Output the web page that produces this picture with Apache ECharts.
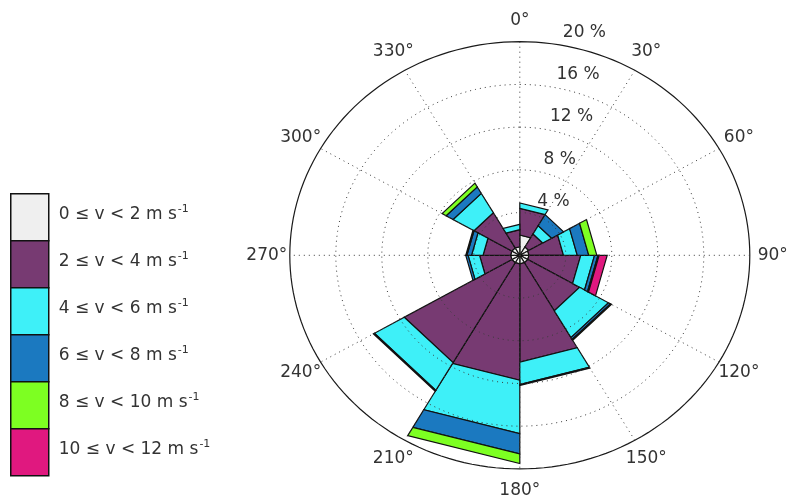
<!DOCTYPE html>
<html>
<head>
<meta charset="utf-8">
<script src="https://cdn.jsdelivr.net/npm/echarts@6/dist/echarts.min.js"></script>
<style>
  html, body { margin: 0; padding: 0; background: #ffffff; }
  #chart { width: 789px; height: 501px; }
</style>
</head>
<body>
<div id="chart"></div>
<script>
// Wind-direction sectors: start angle (degrees clockwise from north), 30° each
const sectorStart = [0, 30, 60, 90, 120, 150, 180, 210, 240, 270, 300, 330];
const sectorWidth = 30;

// Frequency of occurrence (%) in each sector, one array per wind-speed class
const freq0to2   = [1.9, 0.9, 0.8, 0.8, 0.8, 0.8, 0.8, 0.8, 0.8, 0.8, 0.8, 0.8];
const freq2to4   = [2.5, 1.4, 3.0, 4.5, 5.2, 9.2, 10.9, 10.8, 2.7, 2.4, 3.8, 1.6];
const freq4to6   = [0.5, 0.9, 1.2, 1.2, 2.9, 2.1, 5.0, 3.0, 1.0, 1.0, 2.1, 0.5];
const freq6to8   = [0.0, 1.2, 1.0, 0.3, 0.2, 0.1, 1.9, 0.1, 0.2, 0.4, 0.7, 0.0];
const freq8to10  = [0.0, 0.0, 0.7, 0.1, 0.1, 0.0, 0.9, 0.0, 0.0, 0.1, 0.4, 0.0];
const freq10to12 = [0.0, 0.0, 0.0, 0.7, 0.0, 0.0, 0.0, 0.0, 0.0, 0.0, 0.0, 0.0];

const speedClasses = ['0 ≤ v < 2', '2 ≤ v < 4', '4 ≤ v < 6', '6 ≤ v < 8', '8 ≤ v < 10', '10 ≤ v < 12'];
const classColors  = ['#efefef', '#773a72', '#3ef0f8', '#1b79c0', '#7dff22', '#e0187f'];

// Polar axis ticks
const angleTicks      = [0, 30, 60, 90, 120, 150, 180, 210, 240, 270, 300, 330];
const angleTickLabels = ['0°', '30°', '60°', '90°', '120°', '150°', '180°', '210°', '240°', '270°', '300°', '330°'];
const ringTicks       = [4, 8, 12, 16, 20];
const ringTickLabels  = ['4 %', '8 %', '12 %', '16 %', '20 %'];
const rMax = 20;

const FONT = 'DejaVu Sans';
const TEXT_COLOR = '#333333';

const classFreqs = [freq0to2, freq2to4, freq4to6, freq6to8, freq8to10, freq10to12];

// Stack the classes outward in every sector: [sectorStart, inner, outer]
const stacked = classFreqs.map(() => []);
sectorStart.forEach((a, i) => {
  let inner = 0;
  classFreqs.forEach((arr, k) => {
    const v = arr[i];
    if (v > 0) stacked[k].push([a, inner, inner + v]);
    inner += v;
  });
});

// compass angle + radius -> cartesian data point (x east, y north)
function toXY(r, deg) {
  const t = deg * Math.PI / 180;
  return [r * Math.sin(t), r * Math.cos(t)];
}

function wedgeRenderer(color) {
  return function (params, api) {
    const a0 = api.value(0);
    const a1 = a0 + sectorWidth;
    const r0 = api.value(1);
    const r1 = api.value(2);
    const p = (r, a) => api.coord(toXY(r, a));
    const points = r0 > 0
      ? [p(r0, a0), p(r1, a0), p(r1, a1), p(r0, a1)]
      : [p(0, 0), p(r1, a0), p(r1, a1)];
    return {
      type: 'polygon',
      shape: { points },
      style: { fill: color, stroke: '#111111', lineWidth: 1.2, lineJoin: 'miter' }
    };
  };
}

// Polar frame: dotted rings and spokes, solid outer ring, tick labels
function frameRenderer(params, api) {
  const children = [];
  const p = (r, a) => api.coord(toXY(r, a));
  ringTicks.forEach((rv) => {
    const pts = [];
    for (let a = 0; a <= 360; a += 2) pts.push(p(rv, a));
    const outer = rv === rMax;
    children.push({
      type: 'polyline',
      shape: { points: pts },
      style: outer
        ? { stroke: '#1a1a1a', lineWidth: 1.2, fill: null }
        : { stroke: '#3a3a3a', lineWidth: 1, lineDash: [1, 4], fill: null }
    });
  });
  angleTicks.filter(a => a < 180).forEach((a) => {
    const s = p(rMax, a), e = p(rMax, a + 180);
    children.push({
      type: 'line',
      shape: { x1: s[0], y1: s[1], x2: e[0], y2: e[1] },
      style: { stroke: '#3a3a3a', lineWidth: 1, lineDash: [1, 4] }
    });
  });
  angleTicks.forEach((a, i) => {
    const c = p(rMax * 1.1, a);
    children.push({
      type: 'text',
      style: {
        text: angleTickLabels[i], x: c[0], y: c[1],
        align: 'center', verticalAlign: 'middle',
        fontFamily: FONT, fontSize: 17, fill: TEXT_COLOR
      }
    });
  });
  ringTicks.forEach((rv, i) => {
    const t = 82 * Math.PI / 180;
    const c = api.coord([rv * Math.cos(t), rv * Math.sin(t)]);
    children.push({
      type: 'text',
      style: {
        text: ringTickLabels[i], x: c[0] + 11, y: c[1] - 3,
        align: 'left', verticalAlign: 'bottom',
        fontFamily: FONT, fontSize: 17, fill: TEXT_COLOR
      }
    });
  });
  return { type: 'group', children };
}

const chart = echarts.init(document.getElementById('chart'), null, { renderer: 'canvas' });

const series = speedClasses.map((name, k) => ({
  name,
  type: 'custom',
  coordinateSystem: 'cartesian2d',
  renderItem: wedgeRenderer(classColors[k]),
  itemStyle: { color: classColors[k] },
  data: stacked[k],
  encode: { x: -1, y: -1 },
  silent: true,
  z: 2
}));

series.push({
  type: 'custom',
  coordinateSystem: 'cartesian2d',
  renderItem: frameRenderer,
  data: [[0, 0]],
  silent: true,
  z: 5
});

chart.setOption({
  backgroundColor: '#ffffff',
  animation: false,
  grid: { left: 289.8, top: 41.7, width: 460, height: 427.2, show: false },
  xAxis: { type: 'value', min: -rMax, max: rMax, show: false },
  yAxis: { type: 'value', min: -rMax, max: rMax, show: false },
  legend: {
    orient: 'vertical',
    left: 10,
    top: 193,
    padding: 0,
    itemGap: -1.5,
    itemWidth: 38,
    itemHeight: 47,
    icon: 'rect',
    selectedMode: false,
    data: speedClasses,
    itemStyle: { borderColor: '#111111', borderWidth: 1.5 },
    formatter: (n) => `{t|${n} m s}{sup|-1}`,
    textStyle: {
      color: TEXT_COLOR,
      fontFamily: FONT,
      fontSize: 17,
      padding: [0, 0, 6, 5],
      rich: {
        t: { fontFamily: FONT, fontSize: 17, color: TEXT_COLOR, lineHeight: 22 },
        sup: { fontFamily: FONT, fontSize: 11, color: TEXT_COLOR, lineHeight: 13, verticalAlign: 'top', padding: [0, 0, 0, 1] }
      }
    }
  },
  series
});
</script>
</body>
</html>
